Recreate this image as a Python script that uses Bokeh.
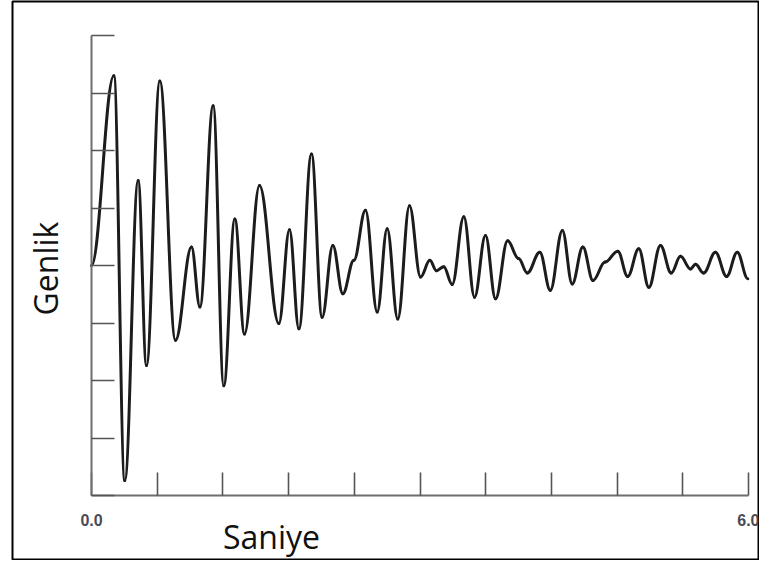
import math
from bokeh.plotting import figure
from bokeh.models import (Range1d, FixedTicker, CustomJSTickFormatter, Label,
                          CustomLabelingPolicy)
from bokeh.embed import file_html
from bokeh.resources import INLINE

# ---- data ----
times = [0.0, 0.204, 0.304, 0.426, 0.502, 0.624, 0.767, 0.913, 0.99, 1.111,
         1.208, 1.309, 1.397, 1.534, 1.711, 1.808, 1.894, 2.009, 2.106, 2.204,
         2.295, 2.396, 2.502, 2.609, 2.70, 2.797, 2.904, 3.005, 3.09, 3.15,
         3.217, 3.294, 3.40, 3.498, 3.598, 3.69, 3.80, 3.90, 3.98, 4.094,
         4.19, 4.30, 4.39, 4.487, 4.58, 4.69, 4.806, 4.897, 4.998, 5.09,
         5.196, 5.294, 5.379, 5.47, 5.516, 5.59, 5.698, 5.80, 5.897, 5.994]
amplitude = [0.0, 3.30, -3.74, 1.48, -1.74, 3.21, -1.30, 0.32, -0.72, 2.78,
             -2.09, 0.81, -1.19, 1.39, -1.01, 0.62, -1.10, 1.94, -0.90, 0.35,
             -0.49, 0.09, 0.96, -0.81, 0.64, -0.93, 1.04, -0.20, 0.09, -0.09,
             -0.02, -0.33, 0.85, -0.55, 0.52, -0.58, 0.43, 0.12, -0.13, 0.23,
             -0.43, 0.61, -0.32, 0.32, -0.26, 0.06, 0.25, -0.19, 0.29, -0.38,
             0.35, -0.13, 0.16, -0.06, 0.02, -0.13, 0.23, -0.19, 0.23, -0.23]
x_ticks = [0.0, 0.6, 1.2, 1.8, 2.4, 3.0, 3.6, 4.2, 4.8, 5.4, 6.0]
y_ticks = [-4, -3, -2, -1, 0, 1, 2, 3, 4]
x_label = "Saniye"
y_label = "Genlik"

# ---- figure: the frame is the bordered box, axes sit inside it ----
p = figure(width=759, height=560, output_backend="svg", toolbar_location=None,
           x_range=Range1d(-0.7215, 6.0913), y_range=Range1d(-5.1130, 4.5913),
           min_border_left=12, min_border_right=1, min_border_top=1,
           min_border_bottom=1)
p.outline_line_color = "black"
p.outline_line_width = 2
p.outline_line_alpha = 1
p.xgrid.visible = False
p.ygrid.visible = False
p.background_fill_color = "white"
p.border_fill_color = "white"

axis_color = "#6e6e6e"
for ax in (p.xaxis[0], p.yaxis[0]):
    ax.axis_line_color = axis_color
    ax.axis_line_width = 2
    ax.major_tick_line_color = "#555555"
    ax.major_tick_line_width = 1.6
    ax.major_tick_in = 23
    ax.major_tick_out = 0
    ax.minor_tick_line_color = None

p.xaxis.fixed_location = -4
p.xaxis.bounds = (0, 6)
p.xaxis.ticker = FixedTicker(ticks=x_ticks)
p.xaxis.formatter = CustomJSTickFormatter(
    code="return (tick == 0 || tick == 6) ? tick.toFixed(1) : '';")
p.xaxis.major_label_policy = CustomLabelingPolicy(code="""
const n = bboxes.length;
for (const i of Array.from(indices)) {
  if (i != 0 && i != n - 1) indices.unset(i);
}
return indices;
""")
p.xaxis.major_label_text_font = "Liberation Sans"
p.xaxis.major_label_text_font_style = "bold"
p.xaxis.major_label_text_font_size = "16px"
p.xaxis.major_label_text_color = "#4a4a55"
p.xaxis.major_label_standoff = 18

p.yaxis.fixed_location = 0
p.yaxis.bounds = (-4, 4)
p.yaxis.ticker = FixedTicker(ticks=y_ticks)
p.yaxis.major_label_policy = CustomLabelingPolicy(code="""
for (const i of Array.from(indices)) indices.unset(i);
return indices;
""")
p.yaxis.major_label_standoff = 0

# smooth curve: cubic segments with horizontal tangents at each read point
k = 0.38
x0 = times[:-1]
x1 = times[1:]
y0 = amplitude[:-1]
y1 = amplitude[1:]
cx0 = [a + k * (b - a) for a, b in zip(x0, x1)]
cx1 = [b - k * (b - a) for a, b in zip(x0, x1)]
p.bezier(x0=x0, y0=y0, x1=x1, y1=y1, cx0=cx0, cy0=y0, cx1=cx1, cy1=y1,
         line_color="#1c1c1c", line_width=3, line_cap="round")

p.add_layout(Label(x=1.644, y=-4.713, text=x_label, text_align="center",
                   text_baseline="alphabetic", text_font="Open Sans",
                   text_font_size="32px", text_color="#111111"))
p.add_layout(Label(x=-0.421, y=-0.052, text=y_label, angle=math.pi / 2,
                   text_align="center", text_baseline="alphabetic",
                   text_font="Open Sans", text_font_size="32px",
                   text_color="#111111"))

open("out.html", "w").write(file_html(p, INLINE))
